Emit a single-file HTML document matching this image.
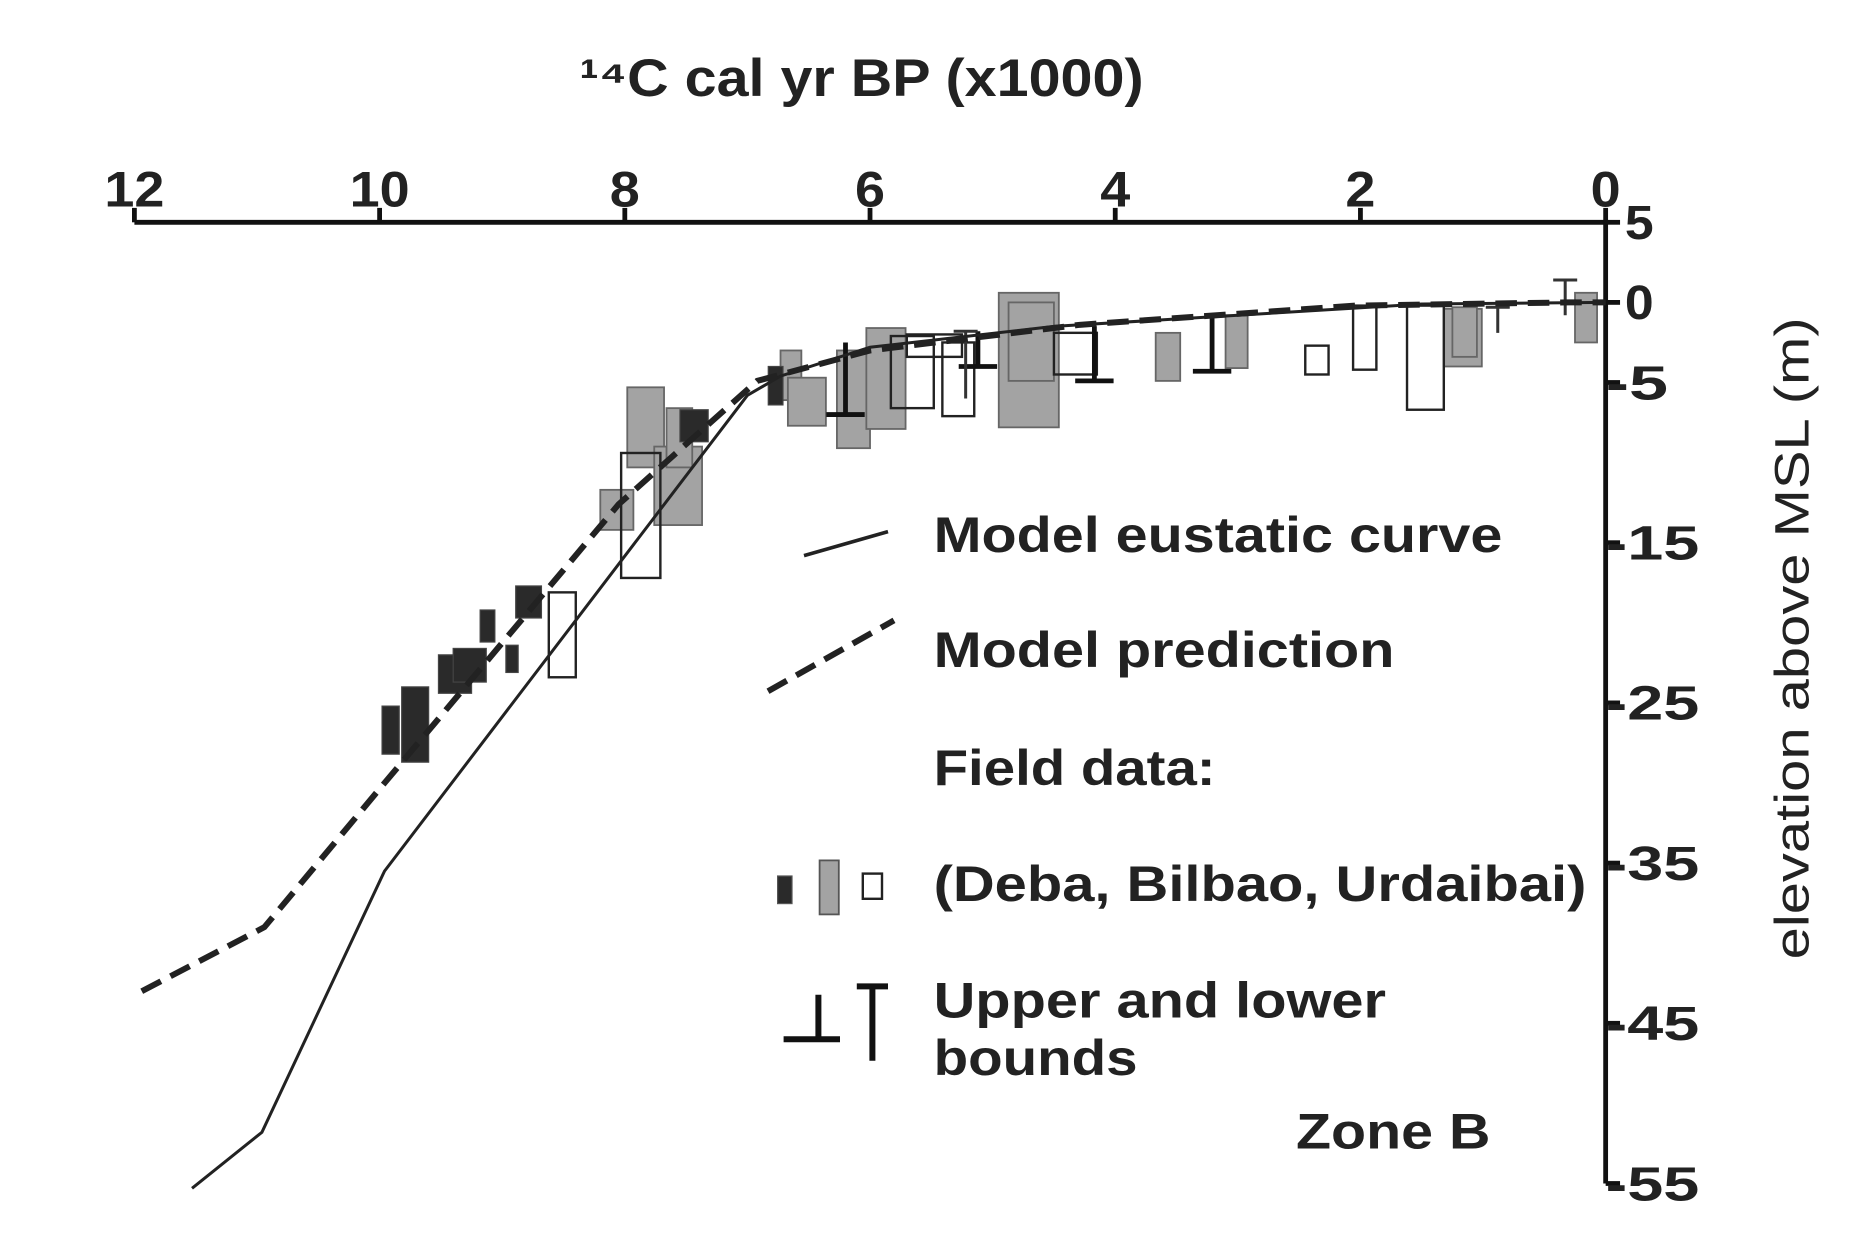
<!DOCTYPE html>
<html><head><meta charset="utf-8"><style>
html,body{margin:0;padding:0;background:#fff;}
svg{display:block;}
text{font-family:"Liberation Sans",sans-serif;font-weight:bold;fill:#222;}
</style></head><body>
<svg id="chart" width="1875" height="1254" viewBox="0 0 1562.5 1045" xmlns="http://www.w3.org/2000/svg">
<g id="plot"></g>
<g id="legend">
  <line x1="670" y1="463" x2="740" y2="443" stroke="#222" stroke-width="3"/>
  <text x="778" y="460" font-size="42" textLength="474" lengthAdjust="spacingAndGlyphs">Model eustatic curve</text>
  <line x1="640" y1="576" x2="745" y2="517" stroke="#222" stroke-width="5" stroke-dasharray="18,9"/>
  <text x="778" y="556" font-size="42" textLength="384" lengthAdjust="spacingAndGlyphs">Model prediction</text>
  <text x="778" y="654" font-size="42" textLength="235" lengthAdjust="spacingAndGlyphs">Field data:</text>
  <rect x="648" y="730" width="12" height="23" fill="#2a2a2a" stroke="#555"/>
  <rect x="683" y="717" width="16" height="45" fill="#a3a3a3" stroke="#555" stroke-width="1.5"/>
  <rect x="719" y="728" width="16" height="21" fill="#fff" stroke="#222" stroke-width="2"/>
  <text x="778" y="751" font-size="42" textLength="544" lengthAdjust="spacingAndGlyphs">(Deba, Bilbao, Urdaibai)</text>
  <path d="M682 829 V866 M653 866 H700" stroke="#111" stroke-width="5" fill="none"/>
  <path d="M714 822 H740 M727 822 V884" stroke="#111" stroke-width="5" fill="none"/>
  <text x="778" y="848" font-size="42" textLength="377" lengthAdjust="spacingAndGlyphs">Upper and lower</text>
  <text x="778" y="896" font-size="42" textLength="170" lengthAdjust="spacingAndGlyphs">bounds</text>
  <text x="1080" y="957" font-size="42" textLength="162" lengthAdjust="spacingAndGlyphs">Zone B</text>
</g>
<text x="483" y="80" font-size="44" textLength="470" lengthAdjust="spacingAndGlyphs">¹⁴C cal yr BP (x1000)</text>
<text transform="translate(1507,532) rotate(-90)" text-anchor="middle" font-size="40" style="font-weight:normal" textLength="535" lengthAdjust="spacingAndGlyphs">elevation above MSL (m)</text>
</svg>
<script>
const xTicks = [12, 10, 8, 6, 4, 2, 0];
const yTicks = [5, 0, -5, -15, -25, -35, -45, -55];
const eustaticT = [11.53, 10.96, 9.96, 7.0, 6.73, 6.0, 4.5, 3.0, 1.5, 0];
const eustaticE = [-55.3, -51.8, -35.5, -5.8, -4.6, -2.8, -1.5, -0.8, -0.1, 0];
const predT = [11.94, 10.94, 9.96, 8.05, 6.92, 6.0, 4.29, 2.04, 0.3, 0];
const predE = [-43.0, -39.0, -30.0, -12.6, -4.9, -3.0, -1.4, -0.2, 0, 0];
// boxes: [t1, t2, eTop, eBottom]
const debaBoxes = [[9.82,9.60,-24.0,-28.7],[9.98,9.84,-25.2,-28.2],[9.52,9.25,-22.0,-24.4],[9.40,9.13,-21.6,-23.7],[9.18,9.06,-19.2,-21.2],[8.97,8.87,-21.4,-23.1],[8.89,8.68,-17.7,-19.7],[7.55,7.32,-6.7,-8.7],[6.83,6.71,-4.0,-6.4]];
const bilbaoBoxes = [[7.98,7.68,-5.3,-10.3],[8.20,7.93,-11.7,-14.2],[7.76,7.37,-9.0,-13.9],[7.66,7.45,-6.6,-10.3],[6.73,6.56,-3.0,-6.1],[6.67,6.36,-4.7,-7.7],[6.27,6.0,-3.0,-9.1],[6.03,5.71,-1.6,-7.9],[4.95,4.46,0.6,-7.8],[4.87,4.50,0.0,-4.9],[3.67,3.47,-1.9,-4.9],[3.10,2.92,-0.8,-4.1],[1.32,1.01,-0.4,-4.0],[1.25,1.05,-0.3,-3.4],[0.25,0.07,0.6,-2.5]];
const urdaibaiBoxes = [[8.03,7.71,-9.4,-17.2],[8.62,8.40,-18.1,-23.4],[5.83,5.48,-2.1,-6.6],[5.41,5.15,-2.5,-7.1],[5.70,5.25,-2.0,-3.4],[4.50,4.15,-1.9,-4.5],[2.45,2.26,-2.7,-4.5],[2.06,1.87,-0.2,-4.2],[1.62,1.32,-0.2,-6.7]];
// lower bounds: [t, eTop, eBar]; upper bounds: [t, eBar, eBottom]
const lowerBounds = [[6.20,-2.5,-7.0],[5.12,-1.8,-4.0],[4.17,-1.5,-4.9],[3.21,-0.9,-4.3]];
const upperBounds = [[0.33,1.4,-0.8],[0.88,-0.3,-1.9],[5.22,-1.8,-6.0]];

const X = t => 112 + (12 - t) * 102.17;
const Y = e => 252 - e * 13.35;
const NS = 'http://www.w3.org/2000/svg';
const plot = document.getElementById('plot');
function mk(tag, attrs){const el=document.createElementNS(NS,tag);for(const k in attrs)el.setAttribute(k,attrs[k]);plot.appendChild(el);return el;}

let el = mk('line',{x1:X(12),y1:Y(5),x2:X(0),y2:Y(5),stroke:'#111','stroke-width':4});


el = mk('line',{x1:X(0),y1:Y(5),x2:X(0),y2:Y(-55),stroke:'#111','stroke-width':4});


xTicks.forEach(t=>{
  let tk=mk('line',{x1:X(t),y1:Y(5),x2:X(t),y2:Y(5)-12,stroke:'#111','stroke-width':4});
  
  
  const s=String(t);
  let tx=mk('text',{x:X(t),y:Y(5)-13,'text-anchor':'middle','font-size':42,textLength:s.length*25,lengthAdjust:'spacingAndGlyphs'});
  tx.textContent=s;
  
  
});
yTicks.forEach(v=>{
  let tk=mk('line',{x1:X(0),y1:Y(v),x2:X(0)+12,y2:Y(v),stroke:'#111','stroke-width':4});
  
  
  const s=String(v);
  let tx=mk('text',{x:X(0)+(v<0?0:16),y:Y(v)+14,'font-size':40,textLength:(v<0?s.length*26:24),lengthAdjust:'spacingAndGlyphs'});
  tx.textContent=s;
  
  
});
function boxes(arr, fill, stroke, sw, name){
  arr.forEach(b=>{
    const r=mk('rect',{x:X(b[0]),y:Y(b[2]),width:X(b[1])-X(b[0]),height:Y(b[3])-Y(b[2]),fill:fill,stroke:stroke,'stroke-width':sw});
    
    
  });
}
boxes(bilbaoBoxes,'#a3a3a3','#666',1.5,'bilbao-box');
boxes(urdaibaiBoxes,'none','#222',2,'urdaibai-box');
boxes(debaBoxes,'#2a2a2a','#444',1,'deba-box');
lowerBounds.forEach(b=>{
  const p=mk('path',{d:`M${X(b[0])} ${Y(b[1])} V${Y(b[2])} M${X(b[0])-16} ${Y(b[2])} H${X(b[0])+16}`,stroke:'#111','stroke-width':4,fill:'none'});
  
  
});
upperBounds.forEach(b=>{
  const p=mk('path',{d:`M${X(b[0])-10} ${Y(b[1])} H${X(b[0])+10} M${X(b[0])} ${Y(b[1])} V${Y(b[2])}`,stroke:'#333','stroke-width':2.5,fill:'none'});
  
  
});
let pts=eustaticT.map((t,i)=>X(t)+','+Y(eustaticE[i])).join(' ');
el=mk('polyline',{points:pts,fill:'none',stroke:'#222','stroke-width':2.5});


pts=predT.map((t,i)=>X(t)+','+Y(predE[i])).join(' ');
el=mk('polyline',{points:pts,fill:'none',stroke:'#222','stroke-width':5,'stroke-dasharray':'18,9'});


</script>
</body></html>
